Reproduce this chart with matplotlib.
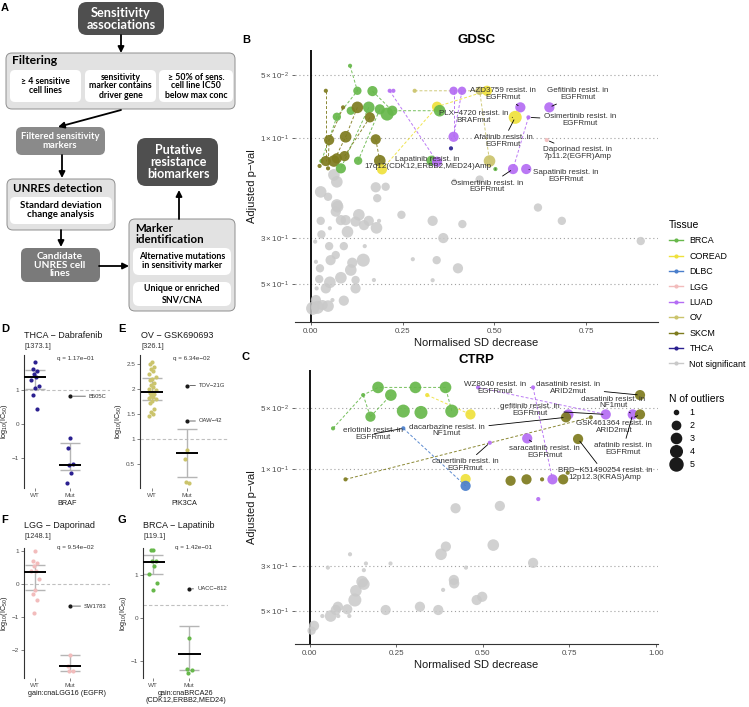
import numpy as np
import matplotlib.pyplot as plt
from matplotlib.patches import FancyBboxPatch
from matplotlib.lines import Line2D
from matplotlib.ticker import NullLocator

W, H = 749, 707
plt.rcParams['font.family'] = ['Liberation Sans', 'DejaVu Sans']
plt.rcParams['mathtext.fontset'] = 'custom'
plt.rcParams['mathtext.rm'] = 'Liberation Sans'
plt.rcParams['mathtext.it'] = 'Liberation Sans'

# ---- legend / colours ----
tissues = ['BRCA', 'COREAD', 'DLBC', 'LGG', 'LUAD', 'OV', 'SKCM', 'THCA', 'Not significant']
tissue_colors = ['#67b84b', '#efe13c', '#4a7ecb', '#f2bcbc', '#b46cf4', '#cbc46c', '#7e7b1e', '#2b2090', '#c9c9c9']
col = dict(zip(tissues, tissue_colors))
n_levels = [1, 2, 3, 4, 5]
n_sizes = {1: 9, 2: 36, 3: 54, 4: 70, 5: 88}

# ---- GDSC (panel B) ----
gdsc_x = [0.107, 0.041, 0.127, 0.168, 0.215, 0.225, 0.283, 0.389, 0.412, 0.460,
          0.480, 0.088, 0.109, 0.127, 0.158, 0.188, 0.208, 0.222, 0.071, 0.161,
          0.344, 0.351, 0.571, 0.650, 0.557, 0.593, 0.050, 0.095, 0.177, 0.389,
          0.382, 0.643, 0.029, 0.024, 0.041, 0.063, 0.071, 0.092, 0.082, 0.047,
          0.129, 0.188, 0.194, 0.329, 0.344, 0.487, 0.503, 0.551, 0.587]
gdsc_p = [0.0451, 0.0594, 0.0594, 0.0596, 0.0594, 0.0594, 0.0594, 0.0594, 0.0594, 0.0594,
          0.0594, 0.0713, 0.0740, 0.0713, 0.0713, 0.0729, 0.0768, 0.0740, 0.0791, 0.0796,
          0.0708, 0.0740, 0.0713, 0.0713, 0.0796, 0.0796, 0.1022, 0.0986, 0.1014, 0.0986,
          0.112, 0.1022, 0.1288, 0.136, 0.1288, 0.1288, 0.125, 0.122, 0.1396, 0.1396,
          0.1284, 0.1284, 0.1412, 0.1284, 0.1298, 0.1288, 0.1407, 0.1407, 0.1407]
gdsc_tissue = ['BRCA', 'SKCM', 'BRCA', 'BRCA', 'LUAD', 'LUAD', 'OV', 'LUAD', 'LUAD', 'OV',
               'COREAD', 'SKCM', 'BRCA', 'SKCM', 'BRCA', 'BRCA', 'BRCA', 'BRCA', 'BRCA', 'SKCM',
               'COREAD', 'BRCA', 'LUAD', 'LUAD', 'COREAD', 'LUAD', 'SKCM', 'SKCM', 'SKCM', 'LUAD',
               'THCA', 'LGG', 'BRCA', 'SKCM', 'SKCM', 'SKCM', 'SKCM', 'SKCM', 'BRCA', 'SKCM',
               'BRCA', 'SKCM', 'COREAD', 'BRCA', 'LUAD', 'OV', 'BRCA', 'LUAD', 'LUAD']
gdsc_n = [1, 1, 2, 3, 1, 1, 1, 2, 2, 2,
          3, 1, 2, 4, 4, 3, 5, 3, 2, 3,
          3, 4, 3, 3, 5, 1, 3, 4, 3, 3,
          1, 1, 1, 1, 3, 4, 3, 3, 3, 1,
          2, 4, 3, 3, 3, 4, 1, 3, 3]
gdsc_links = [[0, 2, 18, 32], [3, 17, 21], [14, 38], [15, 40],
              [1, 34], [11, 26, 39], [13, 27, 35], [19, 37], [28, 41],
              [4, 44], [7, 29], [8, 29], [25, 47],
              [42, 20, 10], [6, 9, 45]]
gdsc_labels = [('AZD3759 resist. in\nEGFRmut', 22, 0.524, 0.0616),
               ('Gefitinib resist. in\nEGFRmut', 23, 0.728, 0.0616),
               ('PLX\u22124720 resist. in\nBRAFmut', 24, 0.443, 0.0794),
               ('Osimertinib resist. in\nEGFRmut', 25, 0.734, 0.0820),
               ('Afatinib resist. in\nEGFRmut', 24, 0.524, 0.1033),
               ('Daporinad resist. in\n7p11.2(EGFR)Amp', 31, 0.726, 0.118),
               ('Lapatinib resist. in\n17q12(CDK12,ERBB2,MED24)Amp', 46, 0.318, 0.1318),
               ('Osimertinib resist. in\nEGFRmut', 47, 0.481, 0.170),
               ('Sapatinib resist. in\nEGFRmut', 48, 0.696, 0.152)]
gdsc_ns_x = [0.073, 0.068, 0.027, 0.082, 0.095, 0.100, 0.131, 0.122, 0.145, 0.158,
             0.179, 0.186, 0.247, 0.332, 0.413, 0.619, 0.684, 0.029, 0.052, 0.012,
             0.050, 0.090, 0.147, 0.361, 0.899, 0.014, 0.025, 0.054, 0.068, 0.109,
             0.113, 0.143, 0.278, 0.343, 0.401, 0.082, 0.023, 0.052, 0.041, 0.122,
             0.122, 0.172, 0.332, 0.016, 0.090, 0.014, 0.005, 0.018, 0.047, 0.059,
             0.032, 0.063, 0.071, 0.027, 0.047, 0.071, 0.177, 0.204, 0.181, 0.460, 0.391]
gdsc_ns_p = [0.213, 0.225, 0.249, 0.247, 0.247, 0.281, 0.233, 0.251, 0.261, 0.249,
             0.269, 0.249, 0.233, 0.249, 0.258, 0.215, 0.249, 0.289, 0.270, 0.313,
             0.329, 0.329, 0.329, 0.301, 0.311, 0.391, 0.420, 0.384, 0.363, 0.428,
             0.395, 0.384, 0.380, 0.384, 0.420, 0.466, 0.473, 0.490, 0.524, 0.478,
             0.524, 0.478, 0.479, 0.524, 0.600, 0.596, 0.653, 0.646, 0.637, 0.596,
             0.630, 0.150, 0.162, 0.181, 0.191, 0.209, 0.172, 0.171, 0.194, 0.158, 0.160]
gdsc_ns_n = [4, 3, 2, 3, 3, 4, 4, 3, 3, 3,
             4, 1, 2, 3, 2, 2, 2, 2, 1, 1,
             2, 2, 1, 3, 2, 1, 2, 3, 2, 4,
             3, 5, 1, 2, 3, 4, 2, 4, 3, 2,
             3, 1, 1, 1, 3, 3, 5, 5, 4, 1,
             3, 4, 4, 4, 2, 4, 3, 2, 2, 2, 1]

# ---- CTRP (panel C) ----
ctrp_x = [0.197, 0.305, 0.392, 0.154, 0.339, 0.234, 0.175, 0.270, 0.321, 0.410,
          0.464, 0.067, 0.270, 0.520, 0.103, 0.450, 0.450, 0.486, 0.645, 0.954,
          0.747, 0.740, 0.812, 0.855, 0.933, 0.954, 0.628, 0.775, 0.580, 0.626,
          0.671, 0.701, 0.732, 0.745, 0.660]
ctrp_p = [0.0396, 0.0396, 0.0396, 0.0432, 0.0432, 0.0432, 0.0552, 0.0518, 0.0526, 0.0518,
          0.0538, 0.0630, 0.0630, 0.0742, 0.1124, 0.112, 0.121, 0.0396, 0.0396, 0.0432,
          0.0538, 0.0556, 0.0556, 0.0538, 0.0538, 0.0538, 0.0706, 0.0711, 0.1142, 0.1124,
          0.1124, 0.1124, 0.1124, 0.1043, 0.1406]
ctrp_tissue = ['BRCA', 'BRCA', 'BRCA', 'BRCA', 'COREAD', 'BRCA', 'BRCA', 'BRCA', 'BRCA', 'BRCA',
               'COREAD', 'BRCA', 'DLBC', 'LUAD', 'SKCM', 'COREAD', 'DLBC', 'LUAD', 'LUAD', 'SKCM',
               'LUAD', 'SKCM', 'SKCM', 'LUAD', 'LUAD', 'SKCM', 'LUAD', 'SKCM', 'SKCM', 'SKCM',
               'SKCM', 'LUAD', 'SKCM', 'SKCM', 'LUAD']
ctrp_n = [4, 4, 4, 1, 1, 4, 3, 5, 5, 5,
          3, 1, 1, 1, 1, 3, 3, 1, 1, 3,
          3, 3, 1, 3, 3, 3, 3, 3, 3, 3,
          1, 3, 3, 1, 1]
ctrp_links = [[11, 3, 0, 1, 2, 9], [3, 6], [6, 5], [4, 10], [12, 16],
              [14, 22], [17, 23], [18, 31]]
ctrp_labels = [('WZ8040 resist. in\nEGFRmut', 18, 0.535, 0.0399),
               ('dasatinib resist. in\nARID2mut', 19, 0.746, 0.0399),
               ('dasatinib resist. in\nNF1mut', 24, 0.876, 0.0468),
               ('gefitinib resist. in\nEGFRmut', 23, 0.636, 0.0512),
               ('GSK461364 resist. in\nARID2mut', 25, 0.879, 0.0621),
               ('afatinib resist. in\nEGFRmut', 24, 0.905, 0.0797),
               ('saracatinib resist. in\nEGFRmut', 26, 0.679, 0.0824),
               ('BRD\u2212K51490254 resist. in\n12p12.3(KRAS)Amp', 27, 0.853, 0.1058),
               ('erlotinib resist. in\nEGFRmut', 12, 0.182, 0.0672),
               ('dacarbazine resist. in\nNF1mut', 21, 0.396, 0.0643),
               ('canertinib resist. in\nEGFRmut', 13, 0.448, 0.0955)]
ctrp_ns_x = [0.421, 0.549, 0.393, 0.379, 0.530, 0.116, 0.052, 0.162, 0.156, 0.233,
             0.645, 0.451, 0.151, 0.156, 0.133, 0.130, 0.385, 0.416, 0.417, 0.482,
             0.498, 0.318, 0.371, 0.219, 0.108, 0.081, 0.075, 0.060, 0.036, 0.082,
             0.114, 0.012, 0.005]
ctrp_ns_p = [0.156, 0.152, 0.241, 0.263, 0.237, 0.263, 0.306, 0.292, 0.315, 0.292,
             0.290, 0.306, 0.359, 0.369, 0.398, 0.442, 0.394, 0.352, 0.366, 0.442,
             0.426, 0.477, 0.495, 0.495, 0.491, 0.477, 0.495, 0.530, 0.530, 0.530,
             0.530, 0.592, 0.626]
ctrp_ns_n = [3, 3, 3, 4, 4, 1, 1, 1, 1, 1,
             3, 1, 4, 4, 4, 5, 1, 3, 3, 3,
             3, 3, 3, 3, 3, 3, 3, 4, 1, 1,
             1, 3, 2]

# ---- panels D-G: log10(IC50) ----
groups = ['WT', 'Mut']
thca_wt = [1.82, 1.62, 1.55, 1.48, 1.38, 1.30, 1.12, 1.05, 0.85, 0.43]
thca_mut = [-0.40, -0.70, -1.18, -1.20, -1.45, -1.74]
thca_stats = [(1.38, 1.02, 1.60), (-1.20, -1.35, -0.55)]
ov_wt = [2.55, 2.50, 2.45, 2.40, 2.36, 2.30, 2.25, 2.20, 2.18, 2.12, 2.08, 2.04, 2.00, 1.98,
         1.95, 1.92, 1.90, 1.87, 1.84, 1.82, 1.80, 1.76, 1.72, 1.60, 1.55, 1.50, 1.47]
ov_mut = [0.78, 0.60, 0.13, 0.14]
ov_stats = [(1.95, 1.78, 2.22), (0.72, 0.25, 1.20)]
lgg_wt = [1.00, 0.70, 0.65, 0.55, 0.40, 0.38, 0.15, -0.18, -0.30, -0.50, -0.88]
lgg_mut = [-2.15, -2.50, -2.65, -2.65]
lgg_stats = [(0.36, -0.18, 0.58), (-2.50, -2.65, -2.15)]
brca_wt = [1.56, 1.56, 1.30, 1.30, 1.20, 1.02, 0.80, 0.65]
brca_mut = [-0.45, -1.18, -1.20, -1.27]
brca_stats = [(1.28, 1.02, 1.44), (-0.82, -1.20, -0.18)]

fig = plt.figure(figsize=(W / 100, H / 100), dpi=100)


def px_axes(l, t, r, b):
    return fig.add_axes([l / W, 1 - b / H, (r - l) / W, (b - t) / H])


def ftext(x, y, s, **kw):
    fig.text(x / W, 1 - y / H, s, **kw)


# ---------------- panel A: flowchart ----------------
ax_a = fig.add_axes([0, 0, 1, 1])
ax_a.set_xlim(0, W)
ax_a.set_ylim(H, 0)
ax_a.axis('off')
bold = dict(family='Lato', weight='bold')


def box(x0, y0, x1, y1, fc, ec='none', r=7):
    ax_a.add_patch(FancyBboxPatch((x0 + r, y0 + r), x1 - x0 - 2 * r, y1 - y0 - 2 * r,
                                  boxstyle=f'round,pad={r}', fc=fc, ec=ec, lw=0.7))


def arrow(x0, y0, x1, y1):
    ax_a.annotate('', xy=(x1, y1), xytext=(x0, y0),
                  arrowprops=dict(arrowstyle='-|>', lw=1.3, color='black',
                                  mutation_scale=9, shrinkA=0, shrinkB=0))


light, edge = '#e2e2e2', '#8f8f8f'
box(78, 2, 164, 35, '#4f4f4f', r=9)
ax_a.text(121, 19, 'Sensitivity\nassociations', ha='center', va='center', color='white',
          fontsize=9.2, linespacing=1.0, **bold)
arrow(121, 35, 121, 53)
box(6, 53, 235, 109, light, edge, r=6)
ax_a.text(12, 61, 'Filtering', ha='left', va='center', fontsize=8.8, **bold)
for (x0, x1), s in zip([(10, 81), (85, 156), (159, 233)],
                       ['\u2265 4 sensitive\ncell lines', 'sensitivity\nmarker contains\ndriver gene',
                        '\u2265 50% of sens.\ncell line IC50\nbelow max conc']):
    box(x0, 70, x1, 102, 'white', r=5)
    ax_a.text((x0 + x1) / 2, 86, s, ha='center', va='center', fontsize=6.3, linespacing=1.0, **bold)
arrow(121, 110, 58, 127)
box(16, 127, 105, 155, '#8a8a8a', r=6)
ax_a.text(60, 141, 'Filtered sensitivity\nmarkers', ha='center', va='center', color='white',
          fontsize=6.8, linespacing=1.0, **bold)
arrow(62, 155, 62, 178)
box(7, 179, 115, 230, light, edge, r=6)
ax_a.text(13, 188, 'UNRES detection', ha='left', va='center', fontsize=8.3, **bold)
box(10, 197, 112, 224, 'white', r=5)
ax_a.text(61, 210, 'Standard deviation\nchange analysis', ha='center', va='center',
          fontsize=6.9, linespacing=1.0, **bold)
arrow(61, 230, 61, 247)
box(21, 248, 100, 282, '#7a7a7a', r=6)
ax_a.text(60, 265, 'Candidate\nUNRES cell\nlines', ha='center', va='center', color='white',
          fontsize=7.3, linespacing=0.95, **bold)
arrow(99, 266, 129, 266)
box(129, 219, 235, 311, light, edge, r=6)
ax_a.text(135, 234, 'Marker\nidentification', ha='left', va='center', fontsize=8.3,
          linespacing=0.95, **bold)
box(133, 248, 231, 275, 'white', r=6)
ax_a.text(182, 261, 'Alternative mutations\nin sensitivity marker', ha='center', va='center',
          fontsize=6.4, linespacing=1.0, **bold)
box(133, 282, 231, 306, 'white', r=6)
ax_a.text(182, 294, 'Unique or enriched\nSNV/CNA', ha='center', va='center',
          fontsize=6.4, linespacing=1.3, **bold)
arrow(179, 219, 179, 190)
box(137, 138, 218, 186, '#4f4f4f', r=9)
ax_a.text(178, 162, 'Putative\nresistance\nbiomarkers', ha='center', va='center', color='white',
          fontsize=9, linespacing=0.95, **bold)

for s, x, y in [('A', 5, 8), ('B', 246, 40), ('C', 246, 357),
                ('D', 5, 329), ('E', 122, 329), ('F', 5, 520), ('G', 122, 520)]:
    ftext(x, y, s, fontsize=8, weight='bold', ha='center', va='center')


# ---------------- panels B and C ----------------
def volcano(ax, x, p, tissue, n, links, labels, ns_x, ns_p, ns_n, title, xticks):
    ax.set_yscale('log')
    yt = [0.05, 0.1, 0.3, 0.5]
    for t in yt:
        ax.axhline(t, ls=(0, (1, 2.5)), color='#a0a0a0', lw=0.8, zorder=0)
    ax.axvline(0, color='black', lw=1.3, zorder=1)
    ax.scatter(ns_x, ns_p, s=[n_sizes[k] for k in ns_n], color=col['Not significant'],
               alpha=0.85, lw=0, zorder=2)
    for link in links:
        ax.plot([x[i] for i in link], [p[i] for i in link], ls=(0, (3, 2)), lw=0.7,
                color=col[tissue[link[0]]], alpha=0.9, zorder=3)
    ax.scatter(x, p, s=[n_sizes[k] for k in n], c=[col[t] for t in tissue],
               alpha=0.92, lw=0, zorder=4)
    for text, i, tx, tp in labels:
        ax.annotate(text, xy=(x[i], p[i]), xytext=(tx, tp), ha='center', va='center',
                    fontsize=5.8, color='#333333', linespacing=0.85, zorder=5,
                    arrowprops=dict(arrowstyle='-', lw=0.6, color='black', shrinkA=1, shrinkB=2))
    ax.set_yticks(yt)
    ax.set_yticklabels([r'$5\times10^{-2}$', r'$1\times10^{-1}$', r'$3\times10^{-1}$',
                        r'$5\times10^{-1}$'])
    ax.yaxis.set_minor_locator(NullLocator())
    ax.set_xticks(xticks)
    ax.set_xticklabels([f'{v:.2f}' for v in xticks])
    for sp in ['left', 'top', 'right']:
        ax.spines[sp].set_visible(False)
    ax.spines['bottom'].set_color('#333333')
    ax.tick_params(labelsize=5.8, colors='#4d4d4d', length=2.5, width=0.6, pad=2)
    ax.set_xlabel('Normalised SD decrease', fontsize=8, labelpad=2, color='#1a1a1a')
    ax.set_ylabel('Adjusted p\u2212val', fontsize=8, labelpad=2, color='#1a1a1a')
    ax.set_title(title, fontsize=9.5, weight='bold', pad=5)


ax_b = px_axes(295, 50, 658, 322)
volcano(ax_b, gdsc_x, gdsc_p, gdsc_tissue, gdsc_n, gdsc_links, gdsc_labels,
        gdsc_ns_x, gdsc_ns_p, gdsc_ns_n, 'GDSC', [0, 0.25, 0.5, 0.75])
ax_b.set_xlim(-0.043, 0.946)
ax_b.set_ylim(0.759, 0.0379)

ax_c = px_axes(295, 370, 658, 644)
volcano(ax_c, ctrp_x, ctrp_p, ctrp_tissue, ctrp_n, ctrp_links, ctrp_labels,
        ctrp_ns_x, ctrp_ns_p, ctrp_ns_n, 'CTRP', [0, 0.25, 0.5, 0.75, 1.0])
ax_c.set_xlim(-0.043, 1.006)
ax_c.set_ylim(0.728, 0.0325)

# legends
tissue_handles = [Line2D([0], [0], color=c, lw=1, marker='o', ms=3, mec='none')
                  for c in tissue_colors]
fig.legend(tissue_handles, tissues, title='Tissue', loc='upper left',
           bbox_to_anchor=(669 / W, 1 - 220 / H), frameon=False, fontsize=6.4,
           title_fontsize=7.5, handlelength=1.6, handletextpad=0.7, labelspacing=0.72,
           borderpad=0, borderaxespad=0, alignment='left')
size_handles = [Line2D([0], [0], ls='', marker='o', color='#1a1a1a',
                       ms=np.sqrt(n_sizes[k])) for k in n_levels]
fig.legend(size_handles, [str(k) for k in n_levels], title='N of outliers', loc='upper left',
           bbox_to_anchor=(669 / W, 1 - 394 / H), frameon=False, fontsize=6.4,
           title_fontsize=7.5, handlelength=1.6, handletextpad=0.7, labelspacing=0.45,
           borderpad=0, borderaxespad=0, alignment='left')


# ---------------- panels D-G ----------------
def strip(ax, wt, mut, stats, color, outlier, out_label, out_tx, thresh, xlabel, yticks):
    for i, vals in enumerate([wt, mut]):
        offs = np.resize([0.0, -0.07, 0.07, -0.035, 0.035, -0.1, 0.1], len(vals))
        med, lo, hi = stats[i]
        ax.vlines(i, lo, hi, color='#b5b5b5', lw=1, zorder=2)
        ax.hlines([lo, hi], i - 0.28, i + 0.28, color='#b5b5b5', lw=1, zorder=2)
        ax.scatter(i + offs, vals, s=9, color=color, lw=0, zorder=3)
        ax.hlines(med, i - 0.32, i + 0.32, color='black', lw=1.4, zorder=4)
    for y, lab in zip(outlier, out_label):
        ax.scatter([1], [y], s=9, color='#1a1a1a', lw=0, zorder=4)
        ax.annotate(lab, xy=(1, y), xytext=(out_tx, y), va='center', ha='left',
                    fontsize=4.2, color='#333333',
                    arrowprops=dict(arrowstyle='-', lw=0.5, color='#333333', shrinkA=0.5, shrinkB=2))
    ax.axhline(thresh, ls=(0, (3, 2)), color='#c0c0c0', lw=0.8, zorder=1)
    ax.set_xticks([0, 1])
    ax.set_xticklabels(groups)
    ax.set_yticks(yticks)
    ax.set_yticklabels([f'{v:g}'.replace('-', '\u2212') if abs(v - round(v)) < 1e-9 else f'{v:.1f}'
                        for v in yticks])
    for sp in ['top', 'right', 'bottom']:
        ax.spines[sp].set_visible(False)
    ax.spines['left'].set_color('#333333')
    ax.spines['left'].set_linewidth(0.8)
    ax.tick_params(labelsize=4.6, colors='#4d4d4d', length=2, width=0.5, pad=1.5)
    ax.set_xlabel(xlabel, fontsize=5.2, labelpad=1.5, color='#1a1a1a', linespacing=1.0)
    ax.set_ylabel('log$_{10}$(IC$_{50}$)', fontsize=5.2, labelpad=1.5, color='#1a1a1a')


ax_d = px_axes(24, 355, 110, 488)
strip(ax_d, thca_wt, thca_mut, thca_stats, col['THCA'], [0.82], ['B505C'], 1.54, 1.0,
      'BRAF', [-1, 0, 1])
ax_d.set_xlim(-0.314, 2.14)
ax_d.set_ylim(-1.88, 2.03)

ax_e = px_axes(140, 355, 228, 488)
strip(ax_e, ov_wt, ov_mut, ov_stats, col['OV'], [2.07, 1.36], ['TOV\u221221G', 'OAW\u221242'],
      1.34, 1.0, 'PIK3CA', [0.5, 1.0, 1.5, 2.0, 2.5])
ax_e.set_xlim(-0.343, 2.17)
ax_e.set_ylim(0.02, 2.68)

ax_f = px_axes(24, 548, 110, 678)
strip(ax_f, lgg_wt, lgg_mut, lgg_stats, col['LGG'], [-0.67], ['SW1783'], 1.4, 0.0,
      'gain:cnaLGG16 (EGFR)', [-2, -1, 0, 1])
ax_f.set_xlim(-0.314, 2.14)
ax_f.set_ylim(-2.85, 1.09)

ax_g = px_axes(143, 548, 228, 678)
strip(ax_g, brca_wt, brca_mut, brca_stats, col['BRCA'], [0.67], ['UACC\u2212812'], 1.22, 0.3,
      'gain:cnaBRCA26\n(CDK12,ERBB2,MED24)', [-1, 0, 1])
ax_g.set_xlim(-0.28, 2.08)
ax_g.set_ylim(-1.38, 1.61)

panel_text = [(24, 'THCA \u2212 Dabrafenib', '[1373.1]', 57, 'q = 1.17e\u221201', 335),
              (141, 'OV \u2212 GSK690693', '[326.1]', 173, 'q = 6.34e\u221202', 335),
              (24, 'LGG \u2212 Daporinad', '[1248.1]', 57, 'q = 9.54e\u221202', 525),
              (143, 'BRCA \u2212 Lapatinib', '[119.1]', 175, 'q = 1.42e\u221201', 525)]
for x, title, drug_id, qx, q, y in panel_text:
    ftext(x, y, title, fontsize=6.5, color='#1a1a1a', va='center')
    ftext(x, y + 12, drug_id, fontsize=5.3, color='#333333', va='center')
    ftext(qx, y + 23, q, fontsize=4.5, color='#333333', va='center')

fig.savefig('out.png', dpi=100)
